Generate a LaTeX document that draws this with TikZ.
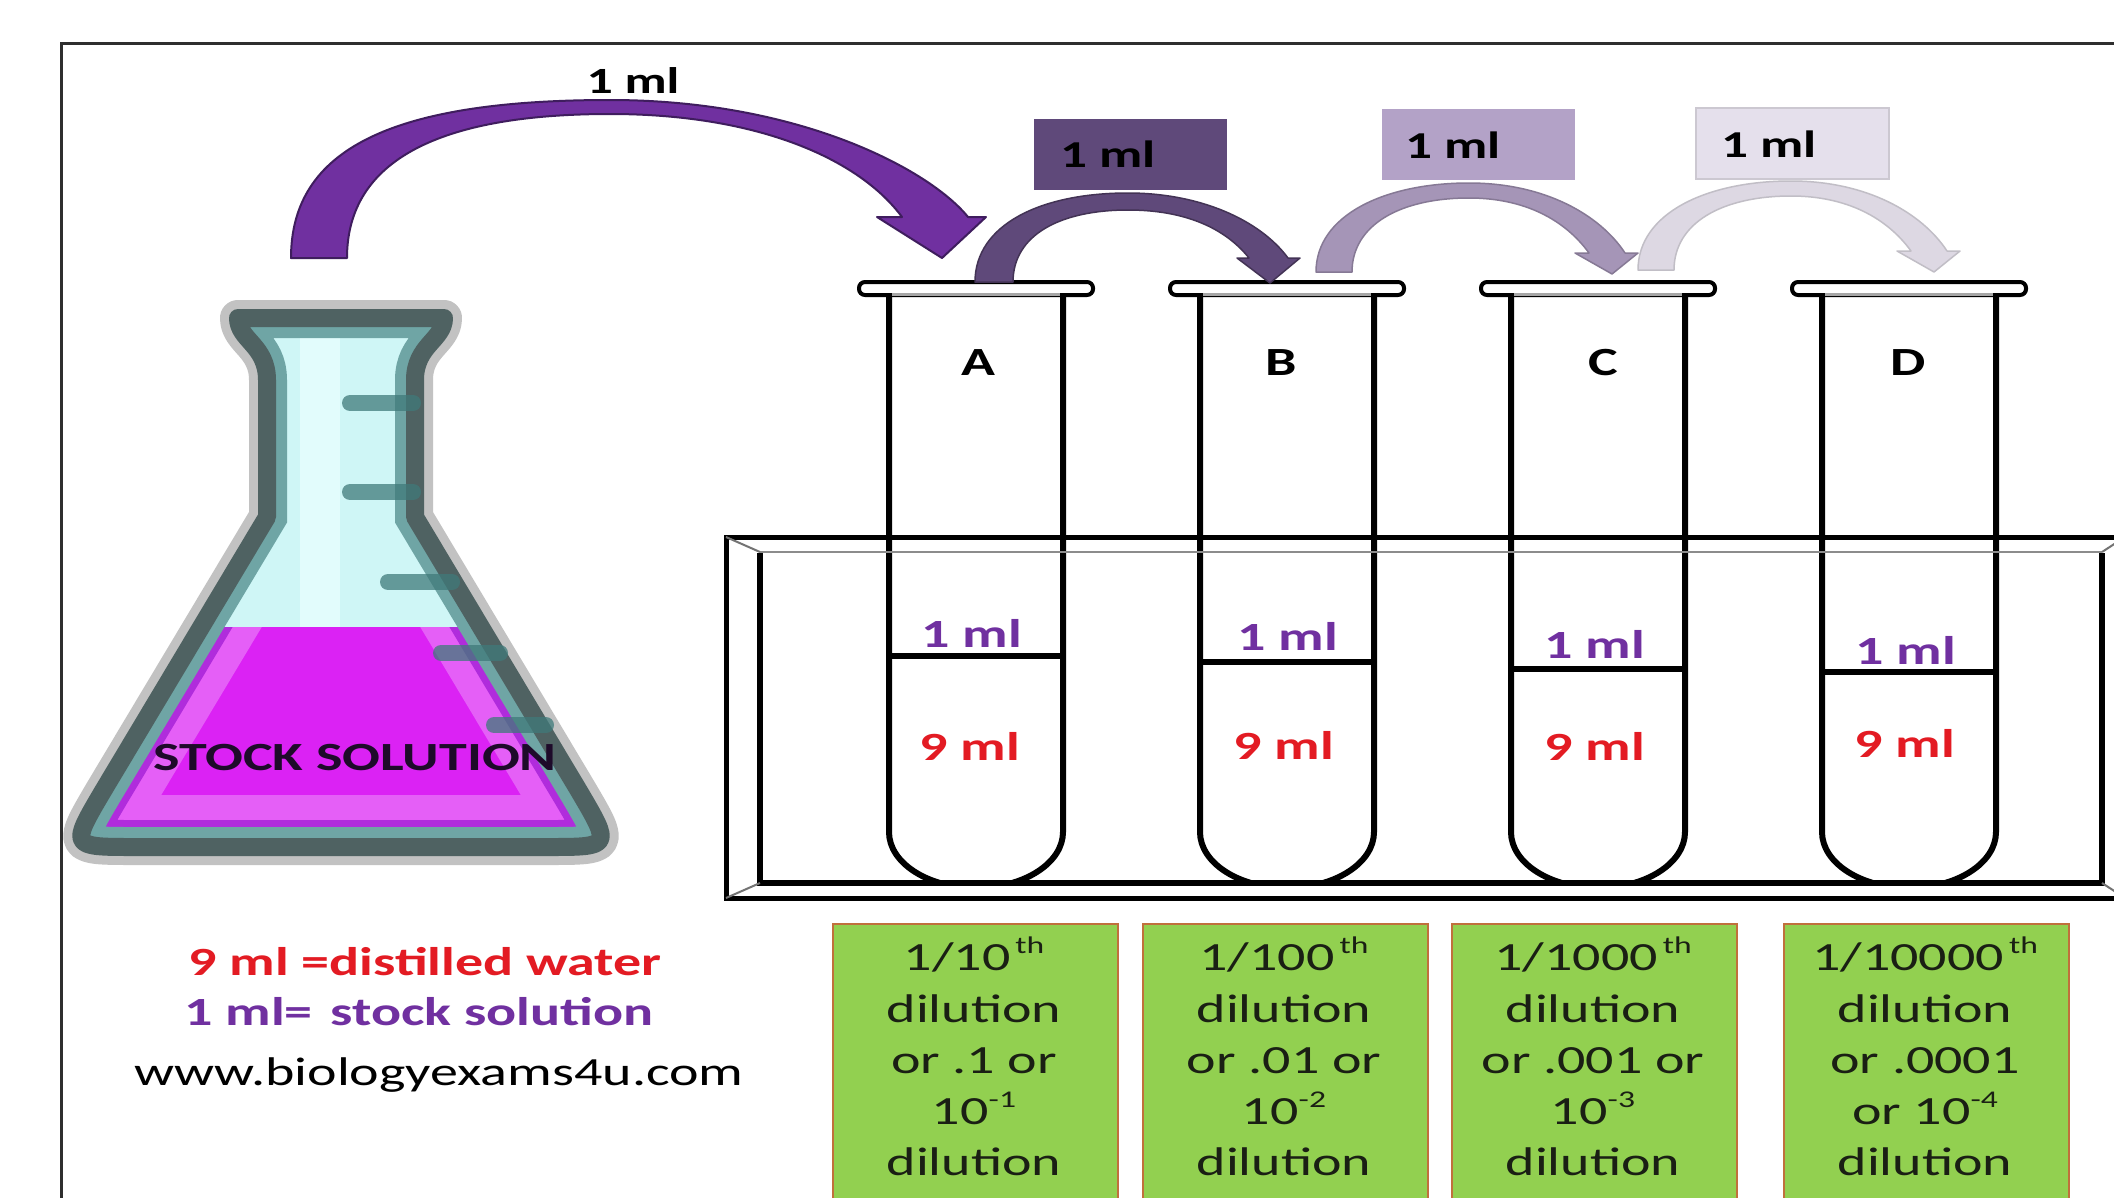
\documentclass[tikz,border=0pt]{standalone}
\usepackage{fontspec}
\setmainfont{Carlito}[FakeStretch=1.4]
\usetikzlibrary{calc}

\definecolor{framecol}{HTML}{2E2E2E}
\definecolor{arrowpurple}{HTML}{7030A0}
\definecolor{arrowedge}{HTML}{3F1D5E}
\definecolor{stepone}{HTML}{5F497A}
\definecolor{steptwo}{HTML}{B3A2C7}
\definecolor{stepthree}{HTML}{E5E0EC}
\definecolor{labelred}{HTML}{E31B23}
\definecolor{labelpurple}{HTML}{7030A0}
\definecolor{boxgreen}{HTML}{92D050}
\definecolor{boxedge}{HTML}{C0703C}
\definecolor{glassdark}{HTML}{4F6262}
\definecolor{glassteal}{HTML}{6FA5A5}
\definecolor{glasshalo}{HTML}{C2C2C2}
\definecolor{neckcyan}{HTML}{CFF6F6}
\definecolor{neckshine}{HTML}{E2FCFC}
\definecolor{liquid}{HTML}{DB22F4}
\definecolor{liquiddeep}{HTML}{B02CDC}
\definecolor{tickcol}{HTML}{3F7A7A}
\definecolor{stocktext}{HTML}{1E0A2A}
\definecolor{greentext}{HTML}{1A1F14}

% outline of the conical flask (centre line of its dark wall)
\newcommand{\flaskoutline}{(267,-517) -- (267,-380) .. controls (267,-345) and (238,-340) .. (238,-318)
  -- (444,-318) .. controls (444,-340) and (415,-345) .. (415,-380) -- (415,-517)
  -- (579,-791) .. controls (612,-847) .. (547,-847) -- (135,-847)
  .. controls (70,-847) .. (103,-791) -- cycle}

% curved transfer arrow used between neighbouring tubes
\newcommand{\hoparrow}{(1316,-272) .. controls (1316,-215) and (1385,-183) .. (1469,-183)
  .. controls (1545,-183) and (1600,-215) .. (1625,-253) -- (1638,-253) -- (1612,-274)
  -- (1575,-253) -- (1589,-253) .. controls (1565,-220) and (1525,-198) .. (1469,-198)
  .. controls (1400,-198) and (1352,-225) .. (1352,-272) -- cycle}

\newcommand{\sups}[1]{\raisebox{0.42em}{\fontsize{24}{24}\selectfont #1}}

\tikzset{
  txt/.style={inner sep=0pt, outer sep=0pt, anchor=base, font=\fontsize{40}{48}\selectfont},
  btxt/.style={txt, font=\fontsize{40}{48}\selectfont\bfseries},
  steplabel/.style={inner sep=0pt, outer sep=0pt, anchor=base west, font=\fontsize{38}{44}\selectfont\bfseries},
  tag/.style={inner sep=0pt, outer sep=0pt, anchor=north west, minimum height=71pt, minimum width=193pt},
  greenbox/.style={draw=boxedge, fill=boxgreen, line width=2pt, inner sep=0pt, anchor=north west,
    minimum width=285pt, minimum height=320pt},
  gtxt/.style={txt, text=greentext},
  wall/.style={line width=6pt, line join=round},
}

\begin{document}
\begin{tikzpicture}[x=1pt,y=1pt]
\useasboundingbox (0,0) rectangle (2114,-1197);
\fill[white] (0,0) rectangle (2114,-1197);

% slide frame
\draw[framecol, line width=3pt] (2125,-43) -- (61,-43) -- (61,-1210);

% ---------------- flask ----------------
\draw[glasshalo, line width=36pt, line join=round] \flaskoutline;
\begin{scope}
  \clip \flaskoutline;
  \fill[neckcyan] (50,-300) rectangle (650,-870);
  \fill[neckshine] (300,-330) rectangle (340,-627);
  \begin{scope}
    \clip (40,-627) rectangle (660,-880);
    \fill[liquid] (40,-627) rectangle (660,-880);
    \draw[white, opacity=0.28, line width=104pt] \flaskoutline;
    \draw[liquiddeep, line width=54pt] \flaskoutline;
  \end{scope}
  \draw[glassteal, line width=40pt] \flaskoutline;
\end{scope}
\draw[glassdark, line width=18pt, line join=round] \flaskoutline;
% graduation marks
\foreach \ya/\xa/\xb in {403/350/413, 492/350/413, 582/388/452, 653/441/500, 725/494/546}
  \draw[tickcol, opacity=0.75, line width=16pt, line cap=round] (\xa,-\ya) -- (\xb,-\ya);
\node[btxt, text=stocktext] (stock) at (355,-770) {STOCK SOLUTION};

% ---------------- tubes ----------------
\foreach \c/\lvl in {976/656, 1287/662, 1598/669, 1909/672} {
  \draw[wall] (\c-87,-293) -- (\c-87,-832) arc[start angle=180, end angle=360, x radius=87pt, y radius=56pt] -- (\c+87,-293);
  \draw[line width=4pt, fill=white, rounded corners=6pt] (\c-117,-282) rectangle (\c+117,-295);
  \draw[black!35, line width=3pt] (\c-84,-294) -- (\c+84,-294);
  \draw[line width=6pt] (\c-87,-\lvl) -- (\c+87,-\lvl);
}

% ---------------- rack ----------------
\fill[white] (763,-885) rectangle (2114,-896);
\draw[line width=5pt] (2125,-537) -- (726,-537) -- (726,-898) -- (2125,-898);
\draw[line width=6pt] (2102,-553) -- (2102,-883) -- (760,-883) -- (760,-553);
\draw[black!45, line width=2.5pt] (760,-552) -- (2102,-552);
\draw[black!55, line width=2pt] (726,-537) -- (760,-552) (726,-898) -- (760,-883)
  (2102,-552) -- (2125,-537) (2102,-883) -- (2125,-898);

% tube letters
\node[btxt] (tA) at (978,-375) {A};
\node[btxt] (tB) at (1281,-375) {B};
\node[btxt] (tC) at (1603,-375) {C};
\node[btxt] (tD) at (1908,-375) {D};

% contents of each tube
\node[btxt, text=labelpurple] (sA) at (972,-647) {1 ml};
\node[btxt, text=labelpurple] (sB) at (1288,-650) {1 ml};
\node[btxt, text=labelpurple] (sC) at (1595,-658) {1 ml};
\node[btxt, text=labelpurple] (sD) at (1906,-664) {1 ml};
\node[btxt, text=labelred] (wA) at (970,-760) {9 ml};
\node[btxt, text=labelred] (wB) at (1284,-759) {9 ml};
\node[btxt, text=labelred] (wC) at (1595,-760) {9 ml};
\node[btxt, text=labelred] (wD) at (1905,-757) {9 ml};

% ---------------- transfer arrows ----------------
\filldraw[fill=arrowpurple, draw=arrowedge, line width=2pt, line join=round]
  (291,-258) .. controls (291,-150) and (390,-100) .. (610,-100)
  .. controls (800,-100) and (930,-170) .. (968,-217)
  -- (986,-217) -- (942,-258) -- (877,-217) -- (902,-217)
  .. controls (860,-160) and (760,-114) .. (610,-114)
  .. controls (440,-114) and (347,-160) .. (347,-258) -- cycle;
\node[btxt, font=\fontsize{37}{44}\selectfont\bfseries] (m0) at (633,-93) {1 ml};

\filldraw[fill=stepone, draw=stepone!70!black, line width=1.5pt, line join=round]
  (975,-282) .. controls (975,-225) and (1040,-193) .. (1128,-193)
  .. controls (1200,-193) and (1260,-220) .. (1288,-258) -- (1300,-258) -- (1270,-283)
  -- (1237,-258) -- (1249,-258) .. controls (1225,-228) and (1185,-210) .. (1128,-210)
  .. controls (1060,-210) and (1013,-235) .. (1013,-282) -- cycle;
\filldraw[fill=steptwo!92!black, draw=steptwo!75!black, line width=1.5pt, line join=round] \hoparrow;
\begin{scope}[xshift=322pt, yshift=2pt]
  \filldraw[fill=stepthree!92!gray, draw=stepthree!65!gray, line width=1.5pt, line join=round] \hoparrow;
\end{scope}

% volume tags
\node[tag, fill=stepone] (k1) at (1034,-119) {};
\node[tag, fill=steptwo] (k2) at (1382,-109) {};
\node[tag, fill=stepthree, draw=stepthree!75!gray, line width=1.5pt] (k3) at (1696,-108) {};
\node[steplabel] (m1) at (1060,-167) {1 ml};
\node[steplabel] (m2) at (1405,-158) {1 ml};
\node[steplabel] (m3) at (1721,-157) {1 ml};

% ---------------- legend ----------------
\node[btxt, text=labelred] (leg1) at (425,-975) {9 ml =distilled water};
\node[btxt, text=labelpurple] (leg2) at (419,-1025) {1 ml=\hskip 18pt stock solution};
\node[txt] (site) at (439,-1085) {www.biologyexams4u.com};

% ---------------- dilution boxes ----------------
\node[greenbox] (g1) at (832,-923) {};
\node[greenbox] (g2) at (1142,-923) {};
\node[greenbox] (g3) at (1451,-923) {};
\node[greenbox] (g4) at (1783,-923) {};

\node[gtxt] (g1a) at (974,-970) {1/10\hspace{5pt}\sups{th}};
\node[gtxt] (g1b) at (974,-1022) {dilution};
\node[gtxt] (g1c) at (974,-1073) {or .1 or};
\node[gtxt] (g1d) at (974,-1124) {10\sups{-1}};
\node[gtxt] (g1e) at (974,-1175) {dilution};

\node[gtxt] (g2a) at (1284,-970) {1/100\hspace{5pt}\sups{th}};
\node[gtxt] (g2b) at (1284,-1022) {dilution};
\node[gtxt] (g2c) at (1284,-1073) {or .01 or};
\node[gtxt] (g2d) at (1284,-1124) {10\sups{-2}};
\node[gtxt] (g2e) at (1284,-1175) {dilution};

\node[gtxt] (g3a) at (1593,-970) {1/1000\hspace{5pt}\sups{th}};
\node[gtxt] (g3b) at (1593,-1022) {dilution};
\node[gtxt] (g3c) at (1593,-1073) {or .001 or};
\node[gtxt] (g3d) at (1593,-1124) {10\sups{-3}};
\node[gtxt] (g3e) at (1593,-1175) {dilution};

\node[gtxt] (g4a) at (1925,-970) {1/10000\hspace{5pt}\sups{th}};
\node[gtxt] (g4b) at (1925,-1022) {dilution};
\node[gtxt] (g4c) at (1925,-1073) {or .0001};
\node[gtxt] (g4d) at (1925,-1124) {or 10\sups{-4}};
\node[gtxt] (g4e) at (1925,-1175) {dilution};
\end{tikzpicture}
\end{document}
